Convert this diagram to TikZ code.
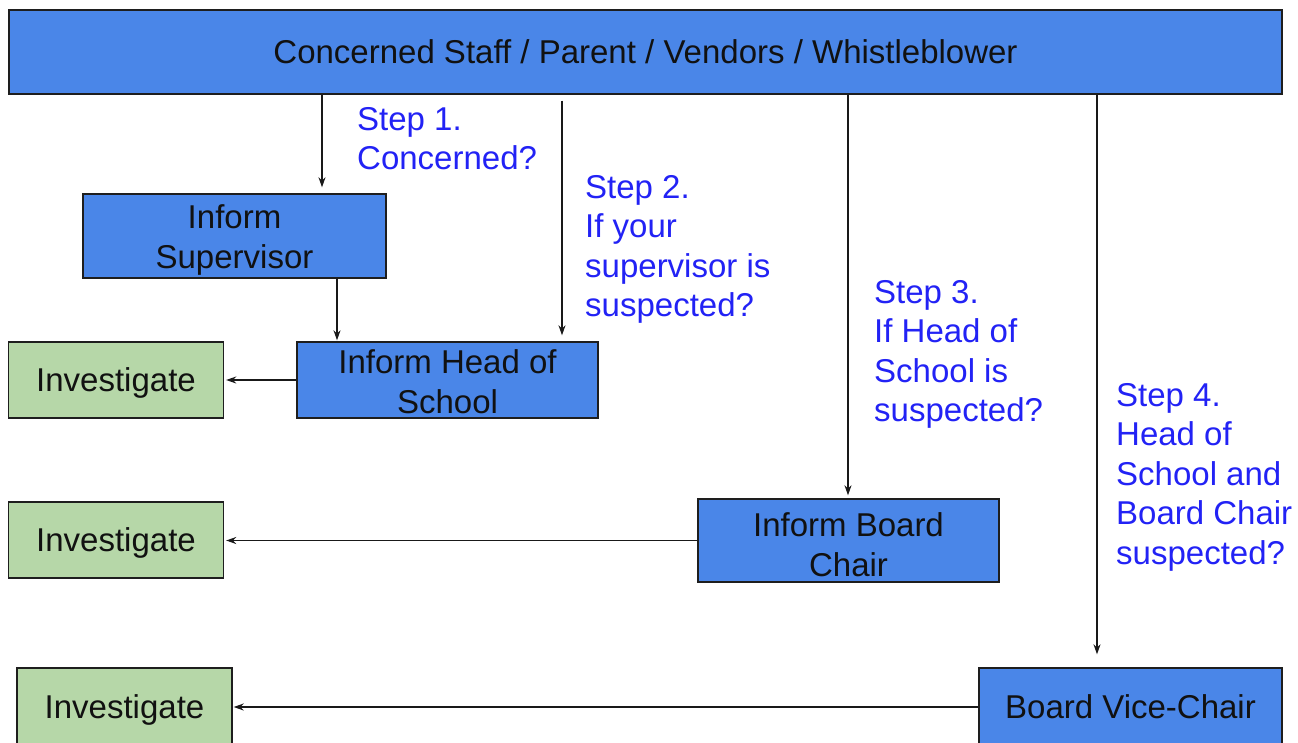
\documentclass[tikz,border=0pt]{standalone}
\usepackage{fontspec}
\setmainfont{Liberation Sans}
\usetikzlibrary{arrows.meta}
\definecolor{boxblue}{HTML}{4A86E8}
\definecolor{boxgreen}{HTML}{B6D7A8}
\definecolor{stepblue}{HTML}{2222F5}
\definecolor{edgecol}{HTML}{1E1E1E}
\definecolor{txtcol}{HTML}{111111}
\newcommand{\lowerby}{\rule{0pt}{32pt}}
\newcommand{\lowerless}{\rule{0pt}{28pt}}
\tikzset{
  bluebox/.style={draw=edgecol, line width=1.4pt, fill=boxblue, text=txtcol,
    font=\fontsize{33}{40}\selectfont, align=center, inner sep=0pt},
  greenbox/.style={bluebox, fill=boxgreen},
  steplabel/.style={text=stepblue, font=\fontsize{33}{39.5}\selectfont,
    align=left, inner sep=0pt, anchor=north west},
  arr/.style={draw=black!90, line width=1.2pt, -{Stealth[length=10pt,width=7pt]}}
}
\begin{document}
\begin{tikzpicture}[x=1pt,y=-1pt]
\useasboundingbox (0,0) rectangle (1298,742);
% boxes
\node[bluebox, minimum width=1273pt, minimum height=84pt] (top) at (645.5,52) {Concerned Staff / Parent / Vendors / Whistleblower};
\node[bluebox, minimum width=303pt, minimum height=84pt] (sup) at (234.5,236) {\lowerby Inform\\Supervisor};
\node[bluebox, minimum width=301pt, minimum height=76pt] (hos) at (447.5,380) {\lowerless Inform Head of\\School};
\node[greenbox, minimum width=215pt, minimum height=76pt, text depth=0pt] (inv1) at (116,380) {Investigate};
\node[greenbox, minimum width=215pt, minimum height=76pt, text depth=0pt] (inv2) at (116,540) {Investigate};
\node[bluebox, minimum width=301pt, minimum height=83pt] (bc) at (848.5,540.5) {\lowerby Inform Board\\Chair};
\node[greenbox, minimum width=215pt, minimum height=78pt, text depth=0pt] (inv3) at (124.5,707) {Investigate};
\node[bluebox, minimum width=303pt, minimum height=78pt, text depth=0pt] (vc) at (1130.5,707) {Board Vice-Chair};
% step labels
\node[steplabel] (s1) at (357,107) {Step 1.\\Concerned?};
\node[steplabel] (s2) at (585,175) {Step 2.\\If your\\supervisor is\\suspected?};
\node[steplabel] (s3) at (874,280) {Step 3.\\If Head of\\School is\\suspected?};
\node[steplabel] (s4) at (1116,383) {Step 4.\\Head of\\School and\\Board Chair\\suspected?};
% x positions of the vertical connectors
\coordinate (xa) at (322,0);
\coordinate (xb) at (337,0);
\coordinate (xc) at (562,0);
\coordinate (xd) at (848,0);
\coordinate (xe) at (1097,0);
% vertical connectors
\draw[arr] (top.south -| xa) -- ([yshift=6pt]sup.north -| xa);
\draw[arr] (sup.south -| xb) -- ([yshift=1pt]hos.north -| xb);
\draw[arr] ([yshift=-6pt]top.south -| xc) -- ([yshift=6pt]hos.north -| xc);
\draw[arr] (top.south -| xd) -- ([yshift=3pt]bc.north -| xd);
\draw[arr] (top.south -| xe) -- ([yshift=13pt]vc.north -| xe);
% horizontal connectors
\draw[arr] (hos.west) -- ([xshift=2pt]inv1.east);
\draw[arr] (bc.west) -- ([xshift=2pt]bc.west -| inv2.east);
\draw[arr] (vc.west) -- ([xshift=1pt]inv3.east);
\end{tikzpicture}
\end{document}
